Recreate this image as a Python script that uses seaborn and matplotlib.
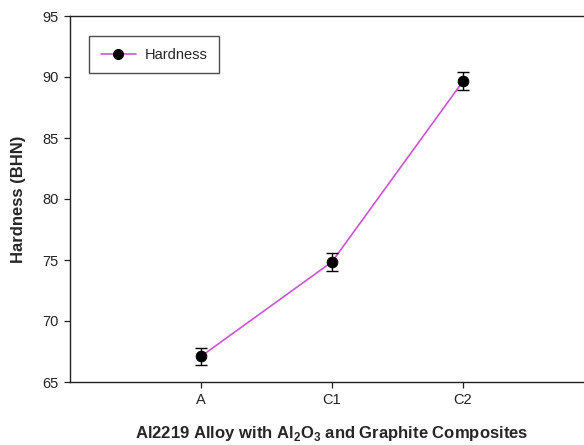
import matplotlib
matplotlib.use("Agg")
import matplotlib.pyplot as plt
from matplotlib.lines import Line2D
import seaborn as sns
import pandas as pd

# Hardness of the base alloy and its composites
samples = ["A", "C1", "C2"]
hardness = [67.1, 74.85, 89.65]
hardness_err = [0.7, 0.75, 0.75]
y_ticks = [65, 70, 75, 80, 85, 90, 95]

df = pd.DataFrame({"pos": [1, 2, 3], "sample": samples,
                   "hardness": hardness, "err": hardness_err})

sns.set_style("ticks")
plt.rcParams["font.family"] = ["Liberation Sans", "DejaVu Sans"]
plt.rcParams["mathtext.fontset"] = "custom"
plt.rcParams["mathtext.rm"] = "Liberation Sans"
plt.rcParams["mathtext.bf"] = "Liberation Sans:bold"

line_color = "#cc55d6"

fig = plt.figure(figsize=(5.84, 4.45), dpi=100)
ax = fig.add_axes([70 / 584, 63 / 445, 524 / 584, 366 / 445])

sns.lineplot(data=df, x="pos", y="hardness", color=line_color, lw=1.2,
             ax=ax, zorder=2)
ax.errorbar(df["pos"], df["hardness"], yerr=df["err"], fmt="none",
            ecolor="black", elinewidth=1.0, capsize=4, capthick=1.0, zorder=3)
sns.scatterplot(data=df, x="pos", y="hardness", color="black", s=60,
                edgecolor="black", ax=ax, zorder=4)

ax.set_xlim(0, 4)
ax.set_ylim(65, 95)
ax.set_xticks(df["pos"])
ax.set_xticklabels(samples)
ax.set_yticks(y_ticks)
ax.tick_params(axis="both", labelsize=10.5, length=4, width=0.9,
               colors="#222222", direction="out", pad=4)
for side in ["left", "bottom", "top"]:
    ax.spines[side].set_linewidth(1.0)
    ax.spines[side].set_color("#222222")
ax.spines["right"].set_visible(False)
ax.spines["top"].set_visible(True)

ax.set_xlabel(r"Al2219 Alloy with Al$_\mathbf{2}$O$_\mathbf{3}$ and Graphite Composites",
              fontsize=12, fontweight="bold", labelpad=12)
ax.set_ylabel("Hardness (BHN)", fontsize=12, fontweight="bold", labelpad=12)

handle = Line2D([], [], color=line_color, lw=1.2, marker="o",
                markersize=7, markerfacecolor="black", markeredgecolor="black")
leg = ax.legend([handle], ["Hardness"], loc="upper left",
                bbox_to_anchor=(19 / 524, 1 - 20 / 366), borderaxespad=0,
                frameon=True, fancybox=False, fontsize=10.5,
                handlelength=2.4, borderpad=0.8, handletextpad=0.6,
                edgecolor="#222222")
leg.get_frame().set_linewidth(1.0)

fig.savefig("out.png", dpi=100)
